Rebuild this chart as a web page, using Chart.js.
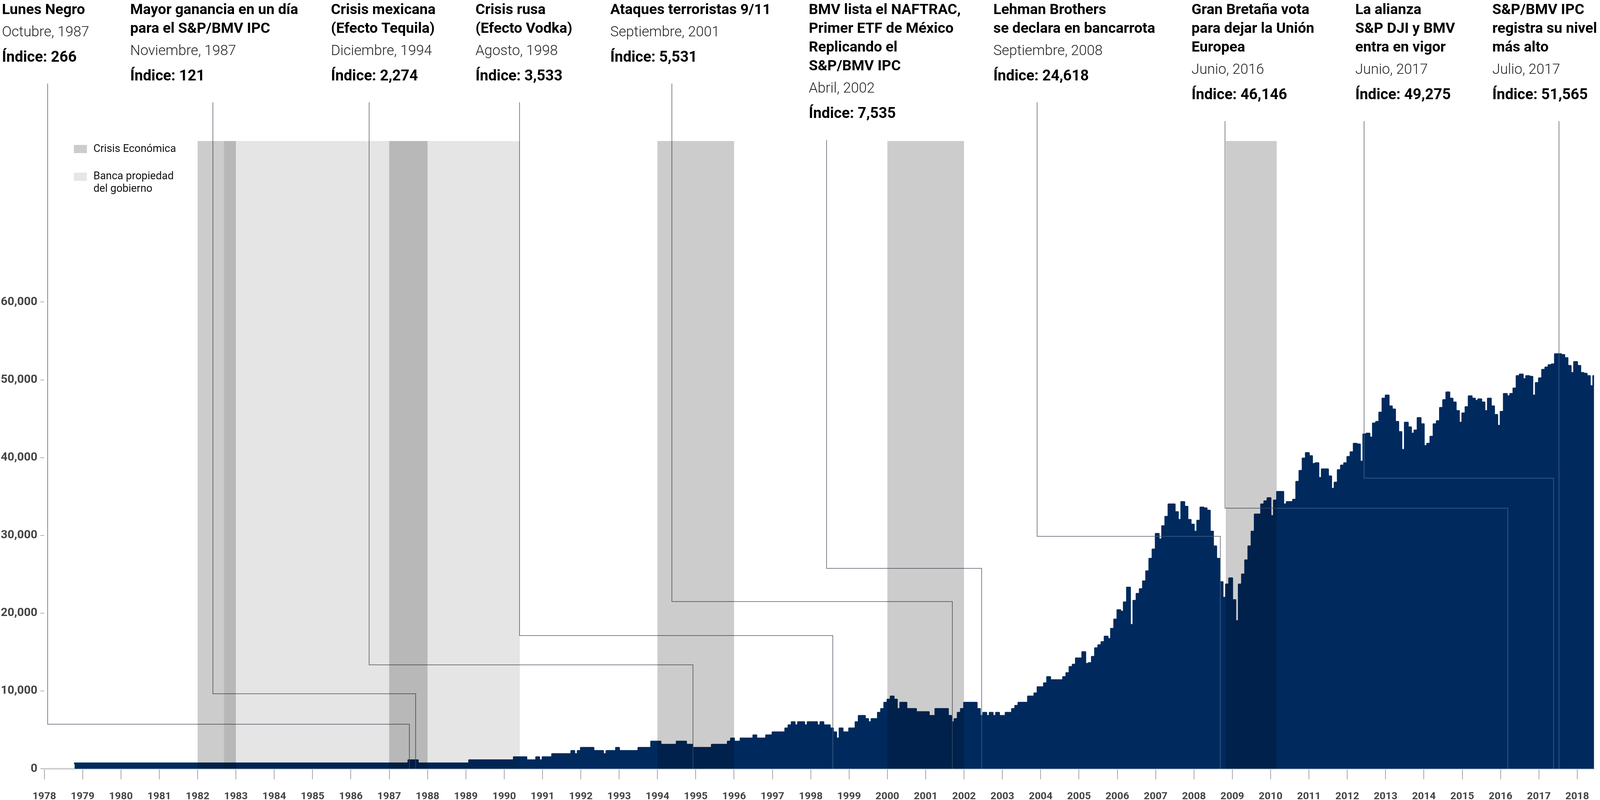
<!DOCTYPE html>
<html>
<head>
<meta charset="utf-8">
<script src="https://cdn.jsdelivr.net/npm/chart.js@4.4.1/dist/chart.umd.min.js"></script>
<style>
html,body{margin:0;padding:0;background:#fff;overflow:hidden;}
#wrap{width:4916px;height:2048px;position:relative;}
</style>
</head>
<body>
<div id="wrap"><canvas id="c"></canvas></div>
<script>
// ---------- DATA ----------
const startYear = 1978, startMonth = 10; // first month of the series (Oct 1978)
const values = [
  700,700,700,                                                     // 1978 (Oct-Dec)
  700,700,700,700,700,700,700,700,700,700,700,700,                 // 1979
  700,700,700,700,700,700,700,700,700,700,700,700,                 // 1980
  700,700,700,700,700,700,700,700,700,700,700,700,                 // 1981
  700,700,700,700,700,700,700,700,700,700,700,700,                 // 1982
  700,700,700,700,700,700,700,700,700,700,700,700,                 // 1983
  700,700,700,700,700,700,700,700,700,700,700,700,                 // 1984
  700,700,700,700,700,700,700,700,700,700,700,700,                 // 1985
  700,700,700,700,700,700,700,700,700,700,700,700,                 // 1986
  700,700,700,700,700,700,1100,1100,1100,700,700,700,              // 1987
  700,700,700,700,700,700,700,700,700,700,700,700,                 // 1988
  700,1100,1100,1100,1100,1100,1100,1100,1100,1100,1100,1100,      // 1989
  1100,1100,1100,1500,1500,1500,1500,1100,1100,1100,1500,1100,     // 1990
  1500,1500,1500,1900,1900,1900,1900,1900,1900,2300,1900,2300,     // 1991
  2700,2700,2700,2700,2300,2300,2300,1900,2300,2300,2300,2700,     // 1992
  2300,2300,2300,2300,2300,2300,2700,2700,2700,2700,3500,3500,     // 1993
  3500,3100,3100,3100,3100,3100,3500,3500,3500,3100,3100,2700,     // 1994
  2700,2700,2700,2700,2700,3100,3100,3100,3100,3100,3500,3900,     // 1995
  3500,3500,3900,3900,3900,3900,4300,3900,3900,3900,4300,4300,     // 1996
  4700,4700,4700,4700,5200,5600,6000,5600,6000,6000,5600,6000,     // 1997
  6000,6000,5600,6000,5600,5600,5200,4700,3900,5200,4700,4700,     // 1998
  5200,5200,6000,6800,6800,6400,6000,6400,6400,7200,7700,8500,     // 1999
  8900,9300,8900,7700,8500,8500,7700,7700,7700,7300,7300,7300,     // 2000
  7300,6800,6800,7700,7700,7700,7700,6800,6000,6400,7200,7700,     // 2001
  8500,8500,8500,8500,7700,6800,7200,6800,7200,6800,7200,6800,     // 2002
  6800,7200,7200,7700,8100,8500,8500,8500,9300,9300,9700,10500,    // 2003
  10500,11000,11800,11400,11400,11400,11400,11800,12300,13100,13400,14200, // 2004
  14200,15000,13500,13600,14400,15500,15900,16300,17000,16700,18000,19200, // 2005
  20400,20200,21400,23300,18500,21600,22500,23100,24100,25400,27000,28200, // 2006
  30200,29500,31200,32400,34000,34000,33000,32000,34300,33700,32000,31400, // 2007
  30500,31900,33600,33500,33200,30500,28600,27000,24000,22000,23700,24500, // 2008
  21700,19000,23700,25000,26800,28600,30500,32700,32700,34000,34400,34800, // 2009
  32500,34500,35600,35600,34000,34300,34300,34600,36900,38300,39900,40600, // 2010
  40200,39200,39300,37400,38500,38500,37600,36000,36800,38400,39000,39300, // 2011
  40100,40700,41800,41700,39500,43000,43100,42600,44400,44600,45800,47600, // 2012
  48000,46600,46200,44600,43300,41000,44500,43900,43100,43500,45100,44300, // 2013
  41500,41800,42700,44300,44700,46400,47400,48400,47600,47100,46000,44500, // 2014
  45700,46500,47900,47600,47300,47500,47100,46000,47600,46600,45500,44100, // 2015
  45900,48200,47900,48200,48900,50500,50700,50100,50500,50400,48000,49600, // 2016
  50200,51300,51600,51900,52000,53300,53300,53200,52800,51800,50900,52300, // 2017
  51800,50900,50800,50500,49200,50500                               // 2018 (Jan-Jun)
];
// categories: one per month, "YYYY-MM"
const months = values.map((v, i) => {
  const m = startMonth - 1 + i;
  return (startYear + Math.floor(m / 12)) + '-' + String(m % 12 + 1).padStart(2, '0');
});
const yTicks = [0, 10000, 20000, 30000, 40000, 50000, 60000];
const xYears = [1978,1979,1980,1981,1982,1983,1984,1985,1986,1987,1988,1989,1990,1991,1992,1993,1994,1995,1996,1997,1998,1999,2000,2001,2002,2003,2004,2005,2006,2007,2008,2009,2010,2011,2012,2013,2014,2015,2016,2017,2018];

// shaded periods (decimal years)
const crisisStart = [1982.0, 1987.0, 1994.0, 2000.0, 2008.83];
const crisisEnd   = [1983.0, 1988.0, 1996.0, 2002.0, 2010.16];
const govStart = [1982.69];
const govEnd   = [1990.41];

// events
const eventTitles = [
  ["Lunes Negro"],
  ["Mayor ganancia en un día", "para el S&P/BMV IPC"],
  ["Crisis mexicana", "(Efecto Tequila)"],
  ["Crisis rusa", "(Efecto Vodka)"],
  ["Ataques terroristas 9/11"],
  ["BMV lista el NAFTRAC,", "Primer ETF de México", "Replicando el", "S&P/BMV IPC"],
  ["Lehman Brothers", "se declara en bancarrota"],
  ["Gran Bretaña vota", "para dejar la Unión", "Europea"],
  ["La alianza", "S&P DJI y BMV", "entra en vigor"],
  ["S&P/BMV IPC", "registra su nivel", "más alto"]
];
const eventDates = ["Octubre, 1987", "Noviembre, 1987", "Diciembre, 1994", "Agosto, 1998", "Septiembre, 2001",
  "Abril, 2002", "Septiembre, 2008", "Junio, 2016", "Junio, 2017", "Julio, 2017"];
const eventIndex = ["Índice: 266", "Índice: 121", "Índice: 2,274", "Índice: 3,533", "Índice: 5,531",
  "Índice: 7,535", "Índice: 24,618", "Índice: 46,146", "Índice: 49,275", "Índice: 51,565"];
const eventTarget = [1987.53, 1987.69, 1994.93, 1998.58, 2001.70, 2002.46, 2008.69, 2016.19, 2017.38, 2017.53];

// ---------- LAYOUT (positions, not data; in 4916x2048 design units) ----------
const textLeft = [6, 400, 1017, 1461, 1875, 2485, 3052, 3661, 4164, 4585];
const leaderX  = [1978.09, 1982.40, 1986.48, 1990.40, 1994.38, 1998.41, 2003.91, 2008.81, 2012.44, 2017.53];
const leaderElbow = [5720, 9640, 13350, 17130, 21500, 25750, 29870, 33510, 37350, null];

const DW = 4916, DH = 2048;
const W = window.innerWidth || DW, H = window.innerHeight || DH;
const sx = Math.min(1, W / DW), sy = Math.min(1, H / DH);
const sf = Math.sqrt(sx * sy);
const X = (v) => v * sx, Y = (v) => v * sy, F = (v) => Math.round(v * sf * 10) / 10;
const wrap = document.getElementById('wrap');
wrap.style.width = Math.round(DW * sx) + 'px';
wrap.style.height = Math.round(DH * sy) + 'px';

const NAVY = '#002a5e';
const FONT = 'Roboto, "Noto Sans", sans-serif';
const T = { first: 36, step: 48, sub: 57, idx: 65, lead: 56 };

function lastTitleBaseline(i) { return T.first + T.step * (eventTitles[i].length - 1); }
function idxBaseline(i) { return lastTitleBaseline(i) + T.sub + T.idx; }

function drawLeaders(ctx, chart, style) {
  const xs = chart.scales.x, ys = chart.scales.y;
  const y0 = ys.getPixelForValue(0);
  ctx.save();
  ctx.lineWidth = 2;
  ctx.strokeStyle = style;
  ctx.lineJoin = 'miter';
  eventTitles.forEach((t, i) => {
    const top = Y(idxBaseline(i) + T.lead);
    const x1 = Math.round(xs.getPixelForValue(leaderX[i]));
    ctx.beginPath();
    ctx.moveTo(x1, top);
    if (leaderElbow[i] !== null) {
      const ye = Math.round(ys.getPixelForValue(leaderElbow[i]));
      const x2 = Math.round(xs.getPixelForValue(eventTarget[i]));
      ctx.lineTo(x1, ye);
      ctx.lineTo(x2, ye);
      ctx.lineTo(x2, y0);
    } else {
      ctx.lineTo(x1, y0);
    }
    ctx.stroke();
  });
  ctx.restore();
}

const overlayPlugin = {
  id: 'overlay',
  beforeDatasetsDraw(chart) {
    drawLeaders(chart.ctx, chart, '#7a7a7a');
  },
  afterDatasetsDraw(chart) {
    const ctx = chart.ctx, xs = chart.scales.x, ys = chart.scales.y, a = chart.chartArea;
    // faint leader lines visible over the filled area
    ctx.save();
    ctx.globalCompositeOperation = 'source-atop';
    drawLeaders(ctx, chart, 'rgba(140,160,190,0.35)');
    ctx.restore();
    // shaded periods
    const y0 = ys.getPixelForValue(0);
    ctx.save();
    ctx.fillStyle = 'rgba(0,0,0,0.1)';
    govStart.forEach((s, i) => {
      const x1 = xs.getPixelForValue(s), x2 = xs.getPixelForValue(govEnd[i]);
      ctx.fillRect(x1, a.top, x2 - x1, y0 - a.top);
    });
    ctx.fillStyle = 'rgba(0,0,0,0.2)';
    crisisStart.forEach((s, i) => {
      const x1 = xs.getPixelForValue(s), x2 = xs.getPixelForValue(crisisEnd[i]);
      ctx.fillRect(x1, a.top, x2 - x1, y0 - a.top);
    });
    ctx.restore();
    // legend
    ctx.save();
    ctx.fillStyle = '#cccccc';
    ctx.fillRect(X(227), Y(371), X(40), Y(21));
    ctx.fillStyle = '#e6e6e6';
    ctx.fillRect(X(227), Y(442), X(40), Y(21));
    ctx.fillStyle = '#111';
    ctx.font = '400 ' + F(30) + 'px ' + FONT;
    ctx.textBaseline = 'middle';
    ctx.textAlign = 'left';
    ctx.fillText('Crisis Económica', X(287), Y(382));
    ctx.fillText('Banca propiedad', X(287), Y(452));
    ctx.fillText('del gobierno', X(287), Y(484));
    ctx.restore();
  },
  afterDraw(chart) {
    const ctx = chart.ctx;
    ctx.save();
    ctx.textBaseline = 'alphabetic';
    ctx.textAlign = 'left';
    eventTitles.forEach((lines, i) => {
      const x = X(textLeft[i]);
      ctx.fillStyle = '#000';
      ctx.font = '700 ' + F(41) + 'px ' + FONT;
      lines.forEach((ln, k) => ctx.fillText(ln, x, Y(T.first + T.step * k)));
      const lt = lastTitleBaseline(i);
      ctx.fillStyle = '#222';
      ctx.font = '300 ' + F(40) + 'px ' + FONT;
      ctx.fillText(eventDates[i], x, Y(lt + T.sub));
      ctx.fillStyle = '#000';
      ctx.font = '700 ' + F(42) + 'px ' + FONT;
      ctx.fillText(eventIndex[i], x, Y(lt + T.sub + T.idx));
    });
    ctx.restore();
  }
};

function build() {
  const points = values.map((v, i) => {
    const [yy, mm] = months[i].split('-').map(Number);
    return { x: yy + (mm - 0.5) / 12, y: v };
  });
  new Chart(document.getElementById('c'), {
    type: 'line',
    data: {
      datasets: [{
        label: 'S&P/BMV IPC',
        data: points,
        stepped: 'middle',
        fill: 'origin',
        backgroundColor: NAVY,
        borderColor: NAVY,
        borderWidth: 4,
        borderJoinStyle: 'round',
        borderCapStyle: 'round',
        pointRadius: 0,
        pointHoverRadius: 0
      }]
    },
    options: {
      responsive: true,
      maintainAspectRatio: false,
      devicePixelRatio: 1,
      animation: false,
      events: [],
      layout: { padding: { top: Y(361), left: 0, right: 0, bottom: 0 } },
      plugins: { legend: { display: false }, tooltip: { enabled: false } },
      scales: {
        x: {
          type: 'linear',
          min: 1978,
          max: 2018.44,
          afterBuildTicks: (s) => { s.ticks = xYears.map(v => ({ value: v })); },
          afterFit: (s) => { s.height = Y(80); },
          grid: { drawOnChartArea: false, drawTicks: true, tickLength: Y(27), color: '#8a8a8a', lineWidth: 1.5 },
          border: { display: true, color: '#cfcfcf', width: 4 },
          ticks: {
            autoSkip: false,
            maxRotation: 0,
            padding: Y(28),
            color: '#444',
            font: { family: FONT, size: F(29), weight: '700' },
            callback: (v) => String(v)
          }
        },
        y: {
          min: 0,
          max: 80700,
          afterBuildTicks: (s) => { s.ticks = yTicks.map(v => ({ value: v })); },
          afterFit: (s) => { s.width = X(136); },
          grid: { drawOnChartArea: false, drawTicks: true, tickLength: X(12), color: '#999', lineWidth: 1.5 },
          border: { display: false },
          ticks: {
            padding: X(9),
            color: '#444',
            font: { family: FONT, size: F(33), weight: '700' },
            callback: (v) => v.toLocaleString('en-US')
          }
        }
      }
    },
    plugins: [overlayPlugin]
  });
}

const loads = ['700 41px Roboto', '300 40px Roboto', '400 30px Roboto'].map(f => document.fonts.load(f).catch(() => null));
Promise.race([Promise.all(loads), new Promise(r => setTimeout(r, 1500))]).then(build, build);
</script>
</body>
</html>
